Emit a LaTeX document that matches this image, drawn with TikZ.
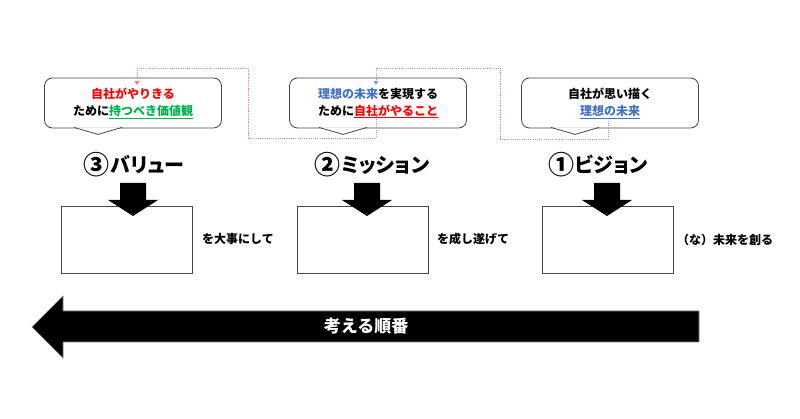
\documentclass[tikz,border=0pt]{standalone}
\usepackage{xcolor}
\usepackage{fontspec}
\setmainfont{Noto Sans CJK JP}
\newfontfamily\headfont{Noto Sans CJK JP}[RawFeature=+palt]
\usepackage{tikz}
\usetikzlibrary{arrows.meta,positioning,calc}

\definecolor{keyred}{RGB}{255,0,0}
\definecolor{keygreen}{RGB}{0,176,80}
\definecolor{keyblue}{RGB}{68,114,196}
\definecolor{linkred}{RGB}{245,125,125}
\definecolor{linkblue}{RGB}{135,155,220}
\definecolor{edgegray}{RGB}{70,70,70}
\newcommand{\bignum}[1]{\raisebox{-0.12em}{\scalebox{1.3}{#1}}\kern0.05em}

\tikzset{
  note/.style={draw=edgegray, line width=0.8pt, rounded corners=8pt, fill=white,
    minimum width=177pt, minimum height=50pt, inner sep=0pt, align=center,
    font=\fontsize{12}{17}\selectfont\bfseries},
  notetail/.style={draw=edgegray, line width=0.8pt, fill=white},
  headtext/.style={font=\headfont\fontsize{20}{24}\selectfont\bfseries},
  emptybox/.style={draw=edgegray, line width=0.6pt, minimum width=131pt, minimum height=67pt, inner sep=0pt},
  sidetext/.style={anchor=west, inner sep=0pt, font=\fontsize{12}{14}\selectfont\bfseries},
  linkline/.style={line width=0.9pt, dash pattern=on 1.1pt off 1.1pt, -{Triangle[length=4pt,width=5pt]}},
}

\begin{document}
\begin{tikzpicture}[x=1pt, y=-1pt]
    \useasboundingbox (0,0) rectangle (800,419);

    % Callouts
    \node[note] (valnote) at (133,103) {\textcolor{keyred}{自社がやりきる}\\ために\textcolor{keygreen}{\underline{持つべき価値観}}};
    \node[note] (misnote) at (378,103) {\textcolor{keyblue}{理想の未来}を実現する\\ために\textcolor{keyred}{\underline{自社がやること}}};
    \node[note] (visnote) at (610,103) {自社が思い描く\\\textcolor{keyblue}{\underline{理想の未来}}};
    \foreach \n in {valnote, misnote, visnote}
        \draw[notetail] ($(\n.south)+(-59,-1)$) -- ($(\n.south)+(-35,6)$) -- ($(\n.south)+(-11,-1)$);

    % Links between callouts
    \coordinate (misfrom) at (376,112);
    \coordinate (valto) at (137,85);
    \coordinate (visfrom) at (608,121);
    \coordinate (misto) at (376,85);
    \draw[linkline, linkred] (misfrom) |- (248,138) -- (248,68) -| (valto);
    \draw[linkline, linkblue] (visfrom) |- (500,139) -- (500,68) -| (misto);

    % Headings
    \node[headtext] (valhead) at (134,165) {\bignum{③}バリュー};
    \node[headtext] (mishead) at (372,165) {\bignum{②}ミッション};
    \node[headtext] (vishead) at (598,165) {\bignum{①}ビジョン};

    % Boxes
    \node[emptybox] (valbox) at (126.5,239.5) {};
    \node[emptybox] (misbox) at (362.5,239.5) {};
    \node[emptybox] (visbox) at (607.5,239.5) {};
    \foreach \x in {133,367,607}
        \fill (\x-13,183) -- (\x+13,183) -- (\x+13,200) -- (\x+25,200) -- (\x,216) -- (\x-25,200) -- (\x-13,200) -- cycle;

    \node[sidetext] (valtext) at (202,239) {を大事にして};
    \node[sidetext] (mistext) at (437,239) {を成し遂げて};
    \node[sidetext] (vistext) at (677,240) {（な）未来を創る};

    % Order arrow
    \fill[black, draw=gray, line width=0.6pt] (32,327) -- (63,296) -- (63,311) -- (699,311) -- (699,342) -- (63,342) -- (63,358) -- cycle;
    \node[text=white, font=\fontsize{17}{20}\selectfont\bfseries] (order) at (366,326) {考える順番};
\end{tikzpicture}
\end{document}
